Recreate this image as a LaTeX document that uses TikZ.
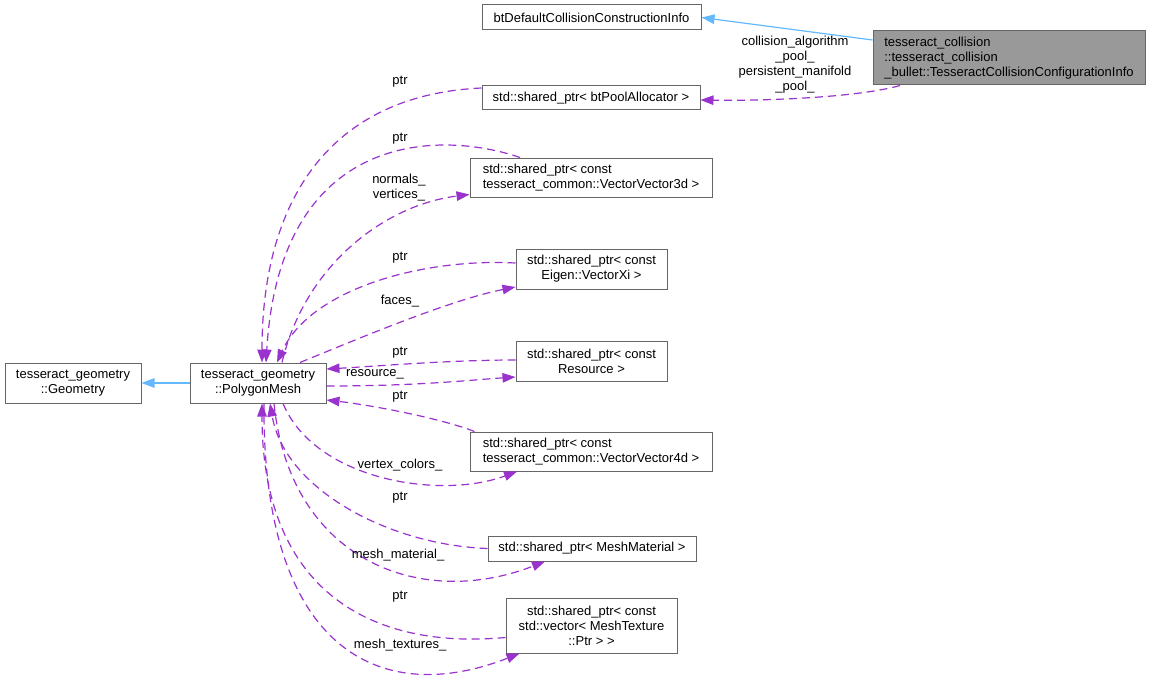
\documentclass[tikz,border=0pt]{standalone}
\usepackage{fontspec}
\setmainfont{Liberation Sans}
\usetikzlibrary{arrows.meta,calc}
\definecolor{edgeblue}{HTML}{63B8FF}
\definecolor{edgepurple}{HTML}{9A32CD}
\definecolor{boxborder}{HTML}{666666}
\definecolor{boxfill}{HTML}{999999}
\begin{document}
\begin{tikzpicture}[x=1pt,y=-1pt,
  font=\fontsize{13}{15}\selectfont,
  box/.style={draw=boxborder, line width=1pt, fill=white, inner sep=0pt, align=center},
  lbox/.style={box, align=left},
  lbl/.style={inner sep=0pt, align=center},
  inh/.style={draw=edgeblue, line width=1.2pt, -{Triangle[length=13pt,width=9.5pt]}},
  use/.style={draw=edgepurple, line width=1.2pt, dash pattern=on 8pt off 5pt, -{Triangle[length=13pt,width=9.5pt]}}]
\useasboundingbox (0,0) rectangle (1151,682);

% nodes
\node[box, minimum width=219pt, minimum height=25pt] (btD) at (591.5,17.5) {btDefaultCollisionConstructionInfo};
\node[lbox, fill=boxfill, minimum width=272pt, minimum height=54pt] (cfg) at (1009,58) {tesseract\_collision\\::tesseract\_collision\\\_bullet::TesseractCollisionConfigurationInfo};
\node[box, minimum width=218pt, minimum height=24pt] (pool) at (591,98) {std::shared\_ptr< btPoolAllocator >};
\node[lbox, minimum width=242pt, minimum height=39pt] (vv3d) at (591,177.5) {std::shared\_ptr< const\\ tesseract\_common::VectorVector3d >};
\node[box, minimum width=151pt, minimum height=40pt] (xi) at (591.5,269) {std::shared\_ptr< const\\Eigen::VectorXi >};
\node[box, minimum width=151pt, minimum height=40pt] (res) at (591.5,361) {std::shared\_ptr< const\\Resource >};
\node[lbox, minimum width=242pt, minimum height=39pt] (vv4d) at (591,451.5) {std::shared\_ptr< const\\ tesseract\_common::VectorVector4d >};
\node[box, minimum width=208pt, minimum height=25pt] (mat) at (592,548.5) {std::shared\_ptr< MeshMaterial >};
\node[box, minimum width=171pt, minimum height=55pt] (tex) at (591.5,625.5) {std::shared\_ptr< const\\std::vector< MeshTexture\\::Ptr > >};
\node[box, minimum width=136pt, minimum height=40pt] (geo) at (73,383) {tesseract\_geometry\\::Geometry};
\node[box, minimum width=136pt, minimum height=40pt] (pm) at (258,383) {tesseract\_geometry\\::PolygonMesh};

% inheritance
\draw[inh] ($(cfg.west)+(0,-18)$) -- (btD.east);
\draw[inh] (pm.west) -- (geo.east);

% usage edges
\draw[use] ($(cfg.south)+(-109,0)$) .. controls (860,97) and (770,101) .. ($(pool.east)+(0,2)$);
\draw[use] ($(pool.west)+(0,-10)$) .. controls (330,95) and (262,200) .. ($(pm.north)+(4,0)$);
\draw[use] ($(vv3d.north)+(-71,0)$) .. controls (440,130) and (280,130) .. ($(pm.north)+(8,0)$);
\draw[use] ($(pm.north)+(24,0)$) .. controls (305,265) and (385,205) .. ($(vv3d.west)+(0,17)$);
\draw[use] ($(xi.west)+(0,-6)$) .. controls (420,258) and (310,290) .. ($(pm.north)+(19,0)$);
\draw[use] ($(pm.north)+(42,0)$) .. controls (360,338) and (450,300) .. ($(xi.west)+(0,18)$);
\draw[use] ($(res.west)+(0,-1)$) .. controls (450,360) and (380,366) .. ($(pm.east)+(0,-14)$);
\draw[use] ($(pm.east)+(0,3)$) .. controls (420,386) and (470,380) .. ($(res.west)+(0,16)$);
\draw[use] ($(vv4d.north west)+(5,0)$) .. controls (440,418) and (370,405) .. ($(pm.east)+(0,17)$);
\draw[use] ($(pm.south)+(25,0)$) .. controls (315,480) and (440,500) .. ($(vv4d.south)+(-74,0)$);
\draw[use] (mat.west) .. controls (390,545) and (285,490) .. ($(pm.south)+(12,0)$);
\draw[use] ($(pm.south)+(16,0)$) .. controls (290,560) and (420,610) .. ($(mat.south)+(-47,0)$);
\draw[use] ($(tex.west)+(0,12)$) .. controls (370,650) and (262,590) .. ($(pm.south)+(4,0)$);
\draw[use] ($(pm.south)+(6,0)$) .. controls (262,650) and (380,708) .. ($(tex.south)+(-72,0)$);

% labels
\node[lbl] (lcfg) at (795,65) {collision\_algorithm\\\_pool\_\\persistent\_manifold\\\_pool\_};
\node[lbl] (lpool) at (400,82) {ptr};
\node[lbl] (lvv3d) at (400,139) {ptr};
\node[lbl] (lnv) at (399,188) {normals\_\\vertices\_};
\node[lbl] (lxi) at (400,258) {ptr};
\node[lbl] (lfaces) at (400,301) {faces\_};
\node[lbl] (lres) at (400,353) {ptr};
\node[lbl] (lresource) at (375,374) {resource\_};
\node[lbl] (lvv4d) at (400,397) {ptr};
\node[lbl] (lvc) at (400,465) {vertex\_colors\_};
\node[lbl] (lmat) at (400,498) {ptr};
\node[lbl] (lmm) at (398,555) {mesh\_material\_};
\node[lbl] (ltex) at (400,597) {ptr};
\node[lbl] (lmt) at (400,645) {mesh\_textures\_};
\end{tikzpicture}
\end{document}
